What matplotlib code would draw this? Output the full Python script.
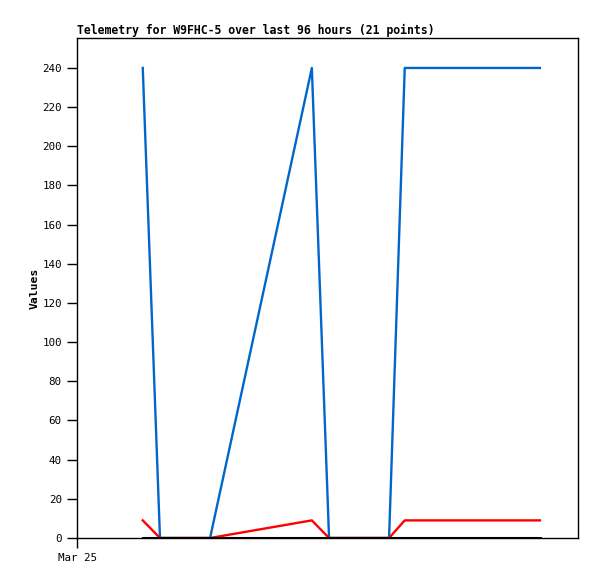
import matplotlib
matplotlib.use('Agg')
import matplotlib.pyplot as plt

# hours since Mar 25 00:00
hours = [12.6, 15.9, 25.5, 45.0, 48.3, 59.8, 62.8, 88.7]
blue_vals = [240, 0, 0, 240, 0, 0, 240, 240]
red_vals = [9, 0, 0, 9, 0, 0, 9, 9]
black_vals = [0, 0, 0, 0, 0, 0, 0, 0]
xtick_pos = [0]
xtick_labels = ["Mar 25"]

fig = plt.figure(figsize=(5.97, 5.79), dpi=100)
ax = fig.add_axes([77/597, 41/579, 501/597, 500/579])

ax.plot(hours, blue_vals, color='#0066cc', lw=1.7)
ax.plot(hours, red_vals, color='#ff0000', lw=1.7)
ax.plot(hours, black_vals, color='black', lw=2.2)

ax.set_xlim(0, 96)
ax.set_ylim(0, 255.3)
ax.set_yticks(range(0, 241, 20))
ax.set_xticks(xtick_pos)
ax.set_xticklabels(xtick_labels)

mono = 'DejaVu Sans Mono'
for lab in ax.get_xticklabels() + ax.get_yticklabels():
    lab.set_family(mono)
    lab.set_fontsize(7.8)
ax.tick_params(direction='out', length=7, width=1, pad=4)

ax.set_ylabel("Values", family=mono, fontweight='bold', fontsize=8.2, labelpad=2)
ax.set_title("Telemetry for W9FHC-5 over last 96 hours (21 points)",
             family=mono, fontweight='bold', fontsize=8.3, loc='left', pad=3)

for s in ax.spines.values():
    s.set_linewidth(1)

fig.savefig('out.png', dpi=100)
